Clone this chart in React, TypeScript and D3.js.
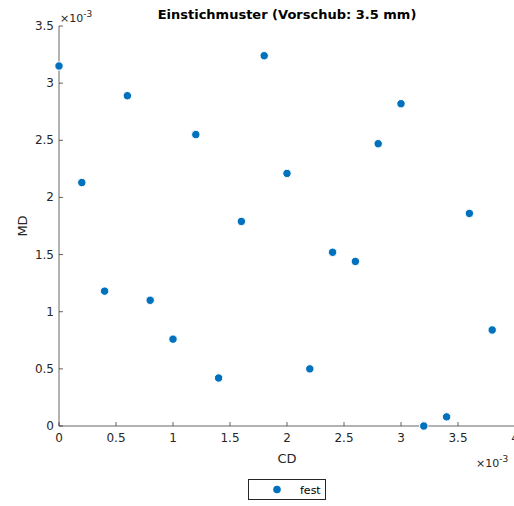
import React from "react";
import * as d3 from "d3";

const cdValues = [0, 0.2, 0.4, 0.6, 0.8, 1.0, 1.2, 1.4, 1.6, 1.8, 2.0, 2.2, 2.4, 2.6, 2.8, 3.0, 3.2, 3.4, 3.6, 3.8];
const mdValues = [3.15, 2.13, 1.18, 2.89, 1.10, 0.76, 2.55, 0.42, 1.79, 3.24, 2.21, 0.50, 1.52, 1.44, 2.47, 2.82, 0.0, 0.08, 1.86, 0.84];
const xTicks = [0, 0.5, 1, 1.5, 2, 2.5, 3, 3.5, 4];
const yTicks = [0, 0.5, 1, 1.5, 2, 2.5, 3, 3.5];
const titleText = "Einstichmuster (Vorschub: 3.5 mm)";
const seriesName = "fest";

export default function App() {
  const W = 514, H = 506;
  const left = 59, right = 515, top = 26, bottom = 426;
  const x = d3.scaleLinear().domain([0, 4]).range([left, right]);
  const y = d3.scaleLinear().domain([0, 3.5]).range([bottom, top]);
  const axisColor = "#262626";
  const font = "'DejaVu Sans', Verdana, sans-serif";
  const blue = "#0072BD";
  const fmt = (v: number) => d3.format("~g")(v);
  return (
    <svg width={W} height={H} style={{ position: "absolute", left: 0, top: 0, background: "#fff" }} fontFamily={font}>
      <text x={(left + right) / 2} y={19} textAnchor="middle" fontSize={13} fontWeight="bold" fill="#000">{titleText}</text>
      <line x1={left} y1={bottom} x2={right} y2={bottom} stroke={axisColor} strokeWidth={1} opacity={0.7} />
      <line x1={left} y1={bottom} x2={left} y2={top} stroke={axisColor} strokeWidth={1} opacity={0.7} />
      {xTicks.map((t) => (
        <g key={"x" + t}>
          <line x1={x(t)} x2={x(t)} y1={bottom} y2={bottom - 4} stroke={axisColor} opacity={0.7} />
          <text x={x(t)} y={bottom + 16} textAnchor="middle" fontSize={12} fill={axisColor}>{fmt(t)}</text>
        </g>
      ))}
      {yTicks.map((t) => (
        <g key={"y" + t}>
          <line x1={left} x2={left + 4} y1={y(t)} y2={y(t)} stroke={axisColor} opacity={0.7} />
          <text x={left - 5} y={y(t) + 4} textAnchor="end" fontSize={12} fill={axisColor}>{fmt(t)}</text>
        </g>
      ))}
      <text x={(left + right) / 2} y={463} textAnchor="middle" fontSize={13} fill={axisColor}>CD</text>
      <text transform={`translate(27,${(top + bottom) / 2}) rotate(-90)`} textAnchor="middle" fontSize={13} fill={axisColor}>MD</text>
      <text x={476} y={467} fontSize={11} fill={axisColor}>×10<tspan dy={-5} fontSize={9}>-3</tspan></text>
      <text x={60} y={22} fontSize={11} fill={axisColor}>×10<tspan dy={-5} fontSize={9}>-3</tspan></text>
      {cdValues.map((c, i) => (
        <circle key={i} cx={x(c)} cy={y(mdValues[i])} r={4.2} fill={blue} stroke="#fff" strokeWidth={1} />
      ))}
      <rect x={248.5} y={479.5} width={77} height={20} fill="#fff" stroke={axisColor} strokeWidth={1} />
      <circle cx={277} cy={489.5} r={3.8} fill={blue} />
      <text x={300} y={494} fontSize={11} fill="#000">{seriesName}</text>
    </svg>
  );
}
